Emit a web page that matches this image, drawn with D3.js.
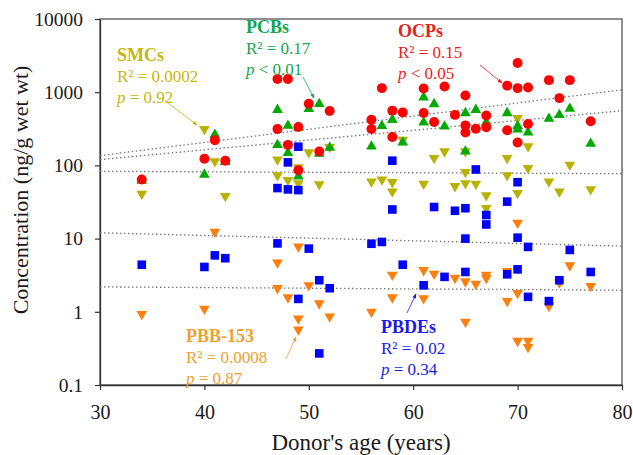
<!DOCTYPE html>
<html>
<head>
<meta charset="utf-8">
<script src="https://cdn.jsdelivr.net/npm/d3@7"></script>
<style>
	body { margin: 0; background: #fff; }
	svg text { font-family: "Liberation Serif", "Times New Roman", serif; }
</style>
</head>
<body>
<svg id="chart" width="633" height="455"></svg>
<script>
// ages and concentrations (ng/g wet wt)
const ocpAge = [34, 40, 41, 42, 47, 47, 48, 48, 49, 49, 50, 51, 52, 56, 56, 57, 58, 58, 59, 61, 61, 62, 63, 64, 65, 65, 65, 66, 67, 67, 69, 69, 70, 70, 70, 71, 71, 73, 74, 75, 77];
const ocpVal = [64, 123, 220, 116, 1510, 314, 1510, 190, 334, 86, 695, 155, 552, 420, 314, 1137, 560, 244, 530, 1120, 519, 392, 1196, 490, 902, 352, 282, 316, 480, 332, 1230, 302, 2512, 1137, 206, 1160, 367, 1462, 830, 1462, 400];

const pcbAge = [34, 40, 41, 42, 47, 47, 48, 48, 49, 49, 50, 51, 51, 52, 56, 57, 58, 59, 61, 61, 62, 63, 65, 65, 66, 67, 69, 70, 70, 71, 73, 74, 75, 77];
const pcbVal = [62, 75, 263, 112, 575, 190, 348, 148, 330, 71, 590, 690, 145, 175, 182, 346, 420, 206, 848, 387, 689, 341, 519, 155, 575, 387, 519, 346, 310, 282, 434, 490, 594, 198];

const smcAge = [34, 40, 41, 42, 47, 47, 48, 49, 49, 50, 51, 52, 56, 57, 58, 58, 59, 61, 62, 63, 64, 65, 65, 65, 66, 67, 67, 69, 69, 70, 70, 71, 71, 73, 74, 75, 77];
const smcVal = [41, 314, 114, 38, 120, 73, 63, 94, 57, 151, 55, 178, 60, 64, 59, 44, 224, 56, 126, 155, 52, 155, 81, 57, 56, 39, 26, 126, 73, 443, 42, 182, 92, 60, 44, 102, 47];

const pbbAge = [34, 40, 41, 47, 47, 48, 49, 49, 49, 50, 51, 52, 56, 58, 58, 61, 61, 62, 64, 65, 65, 66, 67, 67, 69, 69, 70, 70, 70, 71, 71, 73, 74, 75, 77];
const pbbVal = [0.93, 1.1, 12.4, 4.7, 2.1, 1.57, 7.8, 0.81, 0.57, 2.3, 1.3, 0.86, 1.0, 3.2, 1.57, 3.7, 1.53, 3.3, 2.9, 2.6, 0.73, 2.4, 3.2, 2.9, 3.6, 1.4, 16.4, 1.8, 0.40, 0.40, 0.33, 1.2, 2.5, 4.3, 2.25];

const pbdeAge = [34, 40, 41, 42, 47, 47, 48, 48, 49, 49, 49, 50, 51, 51, 52, 56, 57, 58, 58, 59, 61, 62, 63, 64, 65, 65, 65, 66, 67, 67, 69, 69, 70, 70, 70, 71, 71, 73, 74, 75, 77];
const pbdeVal = [4.4, 4.1, 5.9, 5.4, 49, 8.6, 110, 47, 180, 46, 1.5, 7.3, 2.7, 0.27, 2.1, 8.5, 9, 116, 25, 4.4, 2.3, 27, 3.0, 24, 26, 10, 3.5, 88, 21, 15.6, 32, 3.25, 59, 10.3, 3.8, 7.7, 1.6, 1.4, 2.7, 7.0, 3.5];

// regression lines: value at age 30 and at age 80
const fitAges = [30, 80];
const ocpFit = [136, 1080];
const pcbFit = [120, 558];
const smcFit = [83, 77];
const pbdeFit = [12, 7.9];
const pbbFit = [2.19, 1.97];

const xTicks = [30, 40, 50, 60, 70, 80];
const yTicks = [0.1, 1, 10, 100, 1000, 10000];

const series = [
	{ name: 'SMCs', age: smcAge, val: smcVal, fit: smcFit, color: '#b8b300', shape: 'down', r2: '0.0002', p: '= 0.92', text: '#c2b80c' },
	{ name: 'PBB-153', age: pbbAge, val: pbbVal, fit: pbbFit, color: '#ff7f0e', shape: 'down', r2: '0.0008', p: '= 0.87', text: '#f0a030' },
	{ name: 'PCBs', age: pcbAge, val: pcbVal, fit: pcbFit, color: '#00aa00', shape: 'up', r2: '0.17', p: '< 0.01', text: '#10a850' },
	{ name: 'PBDEs', age: pbdeAge, val: pbdeVal, fit: pbdeFit, color: '#0000ff', shape: 'square', r2: '0.02', p: '= 0.34', text: '#1a1aee' },
	{ name: 'OCPs', age: ocpAge, val: ocpVal, fit: ocpFit, color: '#ff0000', shape: 'circle', r2: '0.15', p: '< 0.05', text: '#ee1c1c' }
];

// label position (x, first baseline) and arrow (from -> to)
const notes = {
	'SMCs':    { x: 117, y: 61, arrow: [[168, 103], [197, 125]] },
	'PCBs':    { x: 246, y: 33, arrow: [[303, 77], [314, 98]] },
	'OCPs':    { x: 398, y: 37, arrow: [[480, 65], [502, 83]] },
	'PBB-153': { x: 186, y: 342, arrow: [[286, 359], [296, 337]] },
	'PBDEs':   { x: 381, y: 333, arrow: [[407, 313], [416, 294]] }
};

const svg = d3.select('#chart');
const m = { l: 100, r: 11, t: 19, b: 70 };
const W = 633, H = 455;
const serif = '"Liberation Serif", "Times New Roman", serif';

const x = d3.scaleLinear().domain([30, 80]).range([m.l, W - m.r]);
const y = d3.scaleLog().domain([0.1, 10000]).range([H - m.b, m.t]);

// frame (top and right)
svg.append('rect')
	.attr('x', m.l).attr('y', m.t)
	.attr('width', W - m.r - m.l).attr('height', H - m.b - m.t)
	.attr('fill', 'none').attr('stroke', '#555').attr('stroke-width', 1.3);

// x axis
const gx = svg.append('g')
	.attr('transform', 'translate(0,' + (H - m.b) + ')')
	.call(d3.axisBottom(x).tickValues(xTicks).tickSize(5).tickSizeOuter(0).tickPadding(15).tickFormat(d3.format('d')));
gx.selectAll('text').attr('font-family', serif).style('font-family', serif).style('font-size', '20px').attr('fill', '#1a1a1a');

// y axis
const gy = svg.append('g')
	.attr('transform', 'translate(' + m.l + ',0)')
	.call(d3.axisLeft(y).tickValues(yTicks).tickSize(5).tickSizeOuter(0).tickPadding(12).tickFormat(d => d < 1 ? '0.1' : d3.format('d')(d)));
gy.selectAll('text').attr('font-family', serif).style('font-family', serif).style('font-size', '19.5px').attr('fill', '#1a1a1a');
svg.selectAll('.domain').attr('stroke', '#333').attr('stroke-width', 1.3);
svg.selectAll('.tick line').attr('stroke', '#333').attr('stroke-width', 1.2);

// axis titles
svg.append('text')
	.attr('x', (m.l + W - m.r) / 2).attr('y', 450)
	.attr('text-anchor', 'middle').style('font-size', '23px').attr('fill', '#1a1a1a')
	.text("Donor's age (years)");
svg.append('text')
	.attr('transform', 'translate(28,190) rotate(-90)')
	.attr('text-anchor', 'middle').style('font-size', '22px').attr('fill', '#1a1a1a')
	.text('Concentration (ng/g wet wt)');

// regression lines
const line = d3.line().x(d => x(d[0])).y(d => y(d[1]));
svg.append('g').selectAll('path')
	.data(series).enter()
	.append('path')
	.attr('d', s => line(fitAges.map((a, i) => [a, s.fit[i]])))
	.attr('fill', 'none')
	.attr('stroke', '#777')
	.attr('stroke-width', 1.3)
	.attr('stroke-dasharray', '1.5,2.5');

// markers
const symbols = {
	circle: d3.symbol().type(d3.symbolCircle).size(78),
	square: d3.symbol().type(d3.symbolSquare).size(74),
	up: d3.symbol().type(d3.symbolTriangle).size(50),
	down: d3.symbol().type(d3.symbolTriangle).size(50)
};

series.forEach(s => {
	const pts = s.age.map((a, i) => ({ a: a, v: s.val[i] }));
	svg.append('g').attr('class', 'g_' + s.name)
		.selectAll('path')
		.data(pts).enter()
		.append('path')
		.attr('d', symbols[s.shape]())
		.attr('transform', d => 'translate(' + x(d.a) + ',' + y(d.v) + ')' + (s.shape === 'down' ? ' rotate(180)' : ''))
		.attr('fill', s.color);
});

// arrow heads
const defs = svg.append('defs');
series.forEach((s, i) => {
	defs.append('marker')
		.attr('id', 'arr' + i)
		.attr('viewBox', '0 0 10 10')
		.attr('refX', 9).attr('refY', 5)
		.attr('markerWidth', 6).attr('markerHeight', 6)
		.attr('orient', 'auto')
		.append('path').attr('d', 'M0,1L10,5L0,9z').attr('fill', s.text);
});

// annotations
series.forEach((s, i) => {
	const n = notes[s.name];
	const t = svg.append('text').attr('fill', s.text).style('font-size', '17px');
	t.append('tspan').attr('x', n.x).attr('y', n.y).attr('font-weight', 'bold').style('font-size', '18px').text(s.name);
	t.append('tspan').attr('x', n.x).attr('y', n.y + 21).text('R² = ' + s.r2);
	const p = t.append('tspan').attr('x', n.x).attr('y', n.y + 42);
	p.append('tspan').attr('font-style', 'italic').text('p');
	p.append('tspan').text(' ' + s.p);

	svg.append('line')
		.attr('x1', n.arrow[0][0]).attr('y1', n.arrow[0][1])
		.attr('x2', n.arrow[1][0]).attr('y2', n.arrow[1][1])
		.attr('stroke', s.text).attr('stroke-width', 0.8)
		.attr('marker-end', 'url(#arr' + i + ')');
});
</script>
</body>
</html>
